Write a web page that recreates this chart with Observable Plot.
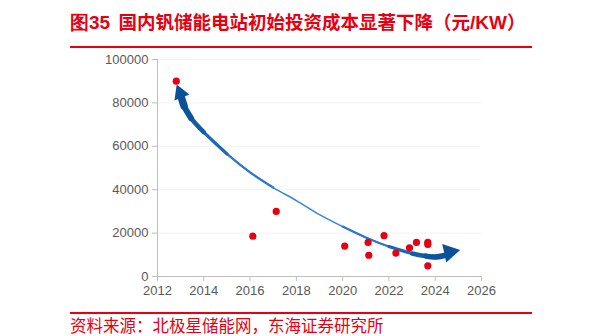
<!DOCTYPE html>
<html>
<head>
<meta charset="utf-8">
<script src="https://cdn.jsdelivr.net/npm/d3@7"></script>
<script src="https://cdn.jsdelivr.net/npm/@observablehq/plot@0.6"></script>
<style>
  html, body { margin: 0; padding: 0; background: #fff; width: 604px; height: 336px; overflow: hidden; }
  #title { position: absolute; left: 70px; top: 9px; font-family: "Noto Sans CJK SC", sans-serif; font-weight: bold; font-size: 18.5px; color: #e60012; white-space: nowrap; line-height: 24px; }
  #title .lat { font-family: "Liberation Sans", Arial, sans-serif; font-size: 19px; }
  #rule1 { position: absolute; left: 70px; top: 46px; width: 462px; height: 2px; background: #e60012; }
  #chart { position: absolute; left: 0; top: 50px; }
  #rule2 { position: absolute; left: 70px; top: 312px; width: 462px; height: 2px; background: #e60012; }
  #source { position: absolute; left: 70px; top: 315px; font-family: "Noto Sans CJK SC", sans-serif; font-size: 16.5px; color: #e60012; white-space: nowrap; line-height: 20px; }
</style>
</head>
<body>
<div id="title"><span class="lat">图35</span>&nbsp;&nbsp;国内钒储能电站初始投资成本显著下降（元<span class="lat">/KW</span>）</div>
<div id="rule1"></div>
<div id="chart"></div>
<div id="rule2"></div>
<div id="source">资料来源：北极星储能网，东海证券研究所</div>
<script>
// scatter data: year, cost (元/KW)
const years = [2012.81, 2016.12, 2017.13, 2020.09, 2021.1, 2021.13, 2021.79, 2022.3, 2022.89, 2023.19, 2023.68, 2023.68, 2023.68];
const costs = [90000, 18600, 30000, 14000, 15700, 9800, 18800, 10800, 13200, 15700, 15700, 14800, 4900];

// hand-drawn trend arrow path
const trendYears = [2013.0, 2013.15, 2013.45, 2014, 2015, 2016, 2017, 2018, 2019, 2020, 2021, 2022, 2023, 2023.6, 2024, 2024.4];
const trendValues = [83500, 78500, 73000, 66500, 56500, 48000, 41000, 35000, 28500, 23000, 18000, 13800, 10600, 9400, 9000, 9700];

const xTicks = [2012, 2014, 2016, 2018, 2020, 2022, 2024, 2026];
const yTicks = [0, 20000, 40000, 60000, 80000, 100000];

const points = years.map((x, i) => ({x, y: costs[i]}));
const trend = trendYears.map((x, i) => ({x, y: trendValues[i]}));
const headStart = [{x: 2012.98, y: 84500, a: -22}];
const headEnd = [{x: 2024.62, y: 11200, a: 78}];

const gray = "#bfbfbf";
const seg = (data, w, color) => Plot.line(data, { x: "x", y: "y", curve: "catmull-rom", stroke: color, strokeWidth: w, strokeLinecap: "round", strokeLinejoin: "round" });
const chart = Plot.plot({
  width: 604,
  height: 256,
  marginLeft: 157,
  marginRight: 123,
  marginTop: 9,
  marginBottom: 30,
  style: { fontFamily: "'Liberation Sans', Arial, sans-serif", fontSize: "13px", color: "#595959", background: "transparent" },
  x: { domain: [2012, 2026], ticks: xTicks, tickFormat: d => String(d), label: null },
  y: { domain: [0, 100000], ticks: yTicks, tickFormat: d => String(d), label: null },
  marks: [
    Plot.gridY(yTicks.filter(d => d > 0), { stroke: "#f3f3f3", strokeOpacity: 1 }),
    Plot.axisX({ ticks: xTicks, tickFormat: d => String(d), stroke: gray, fill: "#595959", tickSize: 5, label: null }),
    Plot.axisY({ ticks: yTicks, tickFormat: d => String(d), stroke: gray, fill: "#595959", tickSize: 5, tickPadding: 4, label: null }),
    Plot.ruleX([2012], { stroke: gray }),
    Plot.ruleY([0], { stroke: gray }),
    seg(trend, 1.5, "#3487d6"),
    seg(trend.slice(0, 7), 2.2, "#2a7acb"),
    seg(trend.slice(0, 5), 3.2, "#1c68b6"),
    seg(trend.slice(0, 4), 4.5, "#135ca6"),
    seg(trend.slice(0, 3), 6, "#0d549c"),
    seg(trend.slice(0, 2), 7.5, "#0b5198"),
    seg(trend.slice(9), 2.2, "#2a7acb"),
    seg(trend.slice(11), 3.2, "#1c68b6"),
    seg(trend.slice(12), 4.5, "#135ca6"),
    seg(trend.slice(13), 5.5, "#0d549c"),
    Plot.dot(headStart, { x: "x", y: "y", symbol: "triangle", r: 6, fill: "#0b5198", rotate: "a" }),
    Plot.dot(headEnd, { x: "x", y: "y", symbol: "triangle", r: 7, fill: "#0b5198", rotate: "a" }),
    Plot.dot(points, { x: "x", y: "y", r: 3.6, fill: "#e60012" })
  ]
});
document.getElementById("chart").appendChild(chart);
</script>
</body>
</html>
